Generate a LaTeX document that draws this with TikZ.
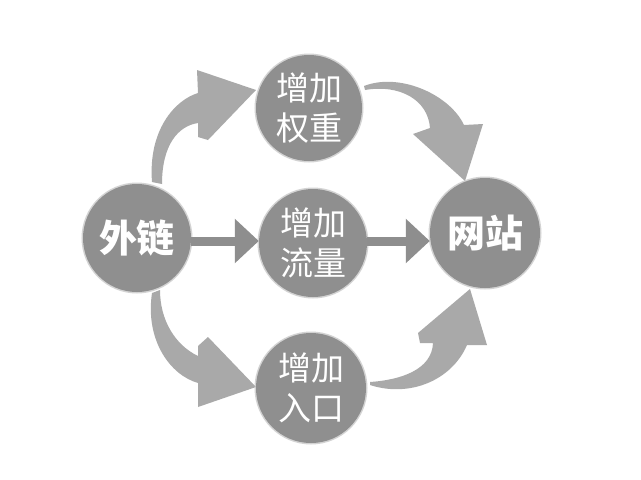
\documentclass[tikz,border=0pt]{standalone}
\usepackage{fontspec}
\newfontfamily\cjk{Noto Sans CJK SC}
\newfontfamily\cjkheavy{Noto Sans CJK SC}[UprightFont=* Black]
\usetikzlibrary{arrows.meta}
\definecolor{circ}{HTML}{8F8F8F}
\definecolor{carrow}{HTML}{A9A9A9}
\definecolor{sarrow}{HTML}{8E8E8E}
\tikzset{
  bub/.style={circle, fill=circ, inner sep=0pt, text=white, align=center,
    preaction={draw=circ!55, line width=3pt, draw opacity=0.7}},
  thin/.style={font=\cjk\fontsize{33}{40}\selectfont},
  heavy/.style={font=\cjkheavy\fontsize{38}{40}\selectfont},
  curved/.style={fill=carrow},
  straight/.style={draw=sarrow, line width=9pt, -{Triangle[length=24pt,width=43pt]}}
}
\begin{document}
\begin{tikzpicture}[x=1pt,y=-1pt]
\useasboundingbox (0,0) rectangle (641,480);
\fill[white] (0,0) rectangle (641,480);

% curved arrows (behind circles)
\path[curved] (152,182) .. controls (148,130) and (175,100) .. (198,93)
  -- (197,70) -- (256,90) -- (208,140) -- (198,137) -- (198,123)
  .. controls (178,126) and (162,145) .. (162,184) -- cycle;
\path[curved] (364,86) .. controls (400,72) and (450,95) .. (464,125)
  -- (483,124) -- (465,181) -- (413,134) -- (430,128)
  .. controls (428,100) and (400,84) .. (365,90) -- cycle;
\path[curved] (152,293) .. controls (145,340) and (170,375) .. (198,383)
  -- (198,407) -- (256,387) -- (208,337) -- (198,346) -- (198,356)
  .. controls (175,345) and (160,320) .. (160,290) -- cycle;
\path[curved] (370,382) .. controls (400,380) and (432,370) .. (433,343)
  -- (420,343) -- (418,333) -- (470,289) -- (487,345) -- (467,345)
  .. controls (452,380) and (410,398) .. (370,385) -- cycle;

% circles
\node[bub, minimum size=108pt, heavy] (wl) at (137,238) {外链};
\node[bub, minimum size=106pt, thin] (qz) at (309,108) {增加\\权重};
\node[bub, minimum size=108pt, thin] (ll) at (313,243) {增加\\流量};
\node[bub, minimum size=110pt, thin] (rk) at (311,388) {增加\\入口};
\node[bub, minimum size=110pt, heavy] (wz) at (485,233) {网站};

% straight arrows
\draw[straight] (wl.east |- 0,241) -- (ll.west |- 0,241);
\draw[straight] (ll.east |- 0,241) -- (wz.west |- 0,241);
\end{tikzpicture}
\end{document}
